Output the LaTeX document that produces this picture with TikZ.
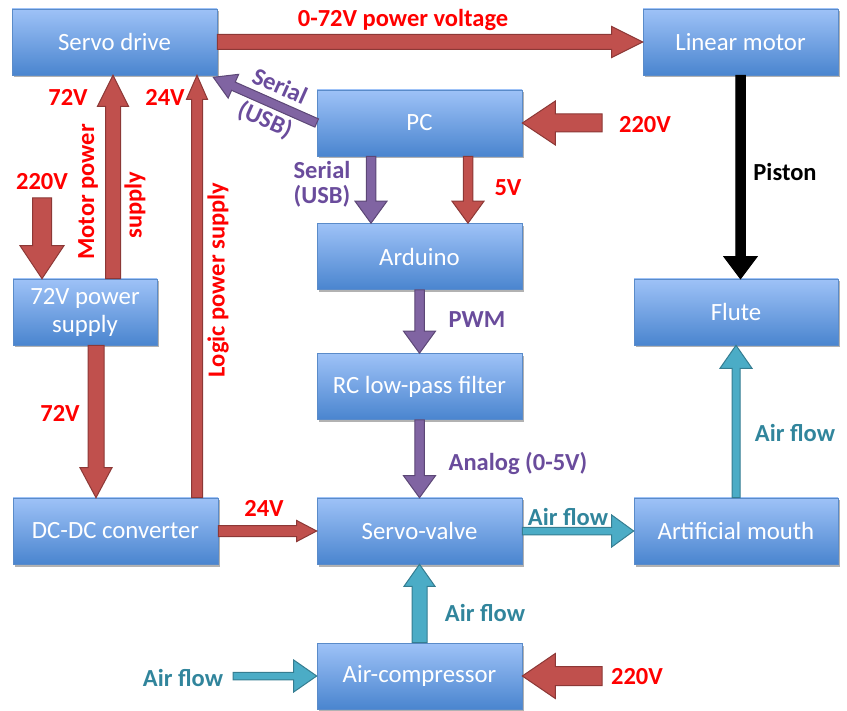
\documentclass[tikz,border=0pt]{standalone}
\usepackage{fontspec}
\setmainfont{Carlito}
\usepackage{tikz}
\usepackage{xcolor}
\usetikzlibrary{calc,shadows}
\definecolor{boxtop}{HTML}{9EC2F7}
\definecolor{boxbot}{HTML}{4A85CF}
\definecolor{boxline}{HTML}{5A8BC9}
\definecolor{redfill}{HTML}{C0504D}
\definecolor{redline}{HTML}{8C3836}
\definecolor{purpfill}{HTML}{8064A2}
\definecolor{purpline}{HTML}{5C4776}
\definecolor{tealfill}{HTML}{4BACC6}
\definecolor{tealline}{HTML}{357D91}
\definecolor{purptext}{HTML}{6A4C9C}
\definecolor{tealtext}{HTML}{31859C}
\newcommand{\boxfont}{\fontsize{24.8}{28}\selectfont}
\newcommand{\lblfont}{\fontsize{24.5}{25}\selectfont\bfseries}
\tikzset{
ba shaft/.store in=\bashaft,
ba head/.store in=\bahead,
ba len/.store in=\balen,
ba fill/.store in=\bafill,
ba line/.store in=\baline,
ba shaft=5pt, ba head=16pt, ba len=22pt, ba fill=black, ba line=black,
power/.style={ba fill=redfill, ba line=redline},
data/.style={ba fill=purpfill, ba line=purpline},
air/.style={ba fill=tealfill, ba line=tealline},
mech/.style={ba fill=black, ba line=black},
mains/.style={ba shaft=9pt, ba head=22pt, ba len=33pt},
wide/.style={ba shaft=7.5pt, ba head=15.5pt, ba len=31pt},
narrow/.style={ba shaft=5.5pt, ba head=10.5pt, ba len=23pt},
signal/.style={ba shaft=4.75pt, ba head=16pt, ba len=22pt},
thin/.style={ba shaft=3.75pt, ba head=16pt, ba len=22pt},
blk/.style={
 rectangle,
 minimum width=205pt,
 minimum height=66pt,
 top color=boxtop,
 bottom color=boxbot,
 draw=boxline,
 line width=0.6pt,
 text=white,
 font=\boxfont,
 align=center,
 drop shadow={shadow xshift=1.5pt, shadow yshift=-2.5pt, opacity=0.3, fill=black}
 },
redlbl/.style={font=\lblfont, text=red},
purplbl/.style={font=\lblfont, text=purptext, align=center},
teallbl/.style={font=\lblfont, text=tealtext},
blklbl/.style={font=\lblfont, text=black}
}
\newcommand{\blockarrow}[3][]{%
\begin{scope}[#1]
\coordinate (ba-s) at #2;
\coordinate (ba-t) at #3;
\coordinate (ba-h) at ($(ba-t)!\balen!(ba-s)$);
\filldraw[fill=\bafill, draw=\baline, line width=1pt, line join=miter]
 ($(ba-s)!\bashaft!90:(ba-t)$) -- ($(ba-h)!\bashaft!90:(ba-t)$)
 -- ($(ba-h)!\bahead!90:(ba-t)$) -- (ba-t)
 -- ($(ba-h)!\bahead!-90:(ba-t)$) -- ($(ba-h)!\bashaft!-90:(ba-t)$)
 -- ($(ba-s)!\bashaft!-90:(ba-t)$) -- cycle;
\end{scope}}

\begin{document}
\begin{tikzpicture}[x=1pt,y=-1pt]
\useasboundingbox (0,0) rectangle (847,711);
\node[blk] (sd) at (114.5,42) {Servo drive};
\node[blk, minimum width=195pt] (lm) at (740.5,42) {Linear motor};
\node[blk] (pc) at (419.5,123) {PC};
\node[blk] (ard) at (419.5,256.5) {Arduino};
\node[blk, minimum width=144pt] (ps) at (85,312) {72V power\\supply};
\node[blk, minimum width=204pt] (fl) at (736,312) {Flute};
\node[blk] (rc) at (419.5,386.5) {RC low-pass filter};
\node[blk] (dc) at (115.5,531) {DC-DC converter};
\node[blk] (sv) at (419.5,531) {Servo-valve};
\node[blk, minimum width=204pt] (am) at (736,531) {Artificial mouth};
\node[blk] (ac) at (419.5,676) {Air-compressor};

\coordinate (mps) at ($(ps.north)+(28,0)$);
\coordinate (lps) at ($(dc.north)+(81.5,0)$);
\coordinate (dcin) at ($(ps.south)+(11,0)$);
\coordinate (in1) at (42,198);
\coordinate (in2) at (602,123);
\coordinate (in3) at (233,676);
\coordinate (in4) at (602,676);
\coordinate (ser) at ($(pc.south)+(-48.5,0)$);
\coordinate (fiv) at ($(pc.south)+(48.5,0)$);

\blockarrow[power, wide]{(sd.east)}{(lm.west)}
\blockarrow[power, wide]{(mps)}{(mps |- sd.south)}
\blockarrow[power, narrow, ba len=24pt]{(lps)}{(lps |- sd.south)}
\blockarrow[power, mains, ba shaft=9.5pt]{(in1)}{(in1 |- ps.north)}
\blockarrow[power, wide, ba shaft=8pt, ba head=16pt, ba len=30pt]{(dcin)}{(dcin |- dc.north)}
\blockarrow[power, narrow, ba len=20pt]{(dc.east)}{(sv.west)}
\blockarrow[power, mains]{(in2)}{(pc.east)}
\blockarrow[data, signal]{(ser)}{(ser |- ard.north)}
\blockarrow[power, signal]{(fiv)}{(fiv |- ard.north)}
\blockarrow[data, signal, ba shaft=4.5pt, ba head=13pt]{(pc.west)}{($(sd.south east)+(-4,2)$)}
\blockarrow[mech, signal, ba head=16.5pt]{(lm.south)}{(lm.south |- fl.north)}
\blockarrow[data, signal]{(ard.south)}{(rc.north)}
\blockarrow[data, signal]{(rc.south)}{(sv.north)}
\blockarrow[air, thin]{(sv.east)}{(am.west)}
\blockarrow[air, thin, ba shaft=4pt, ba len=23pt]{(am.north)}{(fl.south)}
\blockarrow[air, wide, ba len=22pt]{(ac.north)}{(sv.south)}
\blockarrow[air, thin, ba len=23pt]{(in3)}{(ac.west)}
\blockarrow[power, mains, ba shaft=9.5pt, ba head=22.5pt]{(in4)}{(ac.east)}

\node[redlbl] (t-pv) at (403,20) {0-72V power voltage};
\node[redlbl] (t-m72) at (68,97) {72V};
\node[redlbl] (t-l24) at (165,97) {24V};
\node[redlbl] (t-ps220) at (42,182) {220V};
\node[redlbl, rotate=90] (t-mp1) at (88,192) {Motor power};
\node[redlbl, rotate=90] (t-mp2) at (135,205) {supply};
\node[redlbl, rotate=90] (t-lp) at (218,280) {Logic power supply};
\node[purplbl, rotate=-24] (t-ser1) at (272,104) {Serial\\[11pt](USB)};
\node[purplbl] (t-ser2) at (322,184) {Serial\\(USB)};
\node[redlbl] (t-5v) at (508,188) {5V};
\node[redlbl] (t-pc220) at (645,125) {220V};
\node[blklbl] (t-pis) at (785,172) {Piston};
\node[purplbl] (t-pwm) at (477,320) {PWM};
\node[redlbl] (t-d72) at (60,413) {72V};
\node[purplbl] (t-ana) at (518,463) {Analog (0-5V)};
\node[redlbl] (t-v24) at (264,508) {24V};
\node[teallbl] (t-af1) at (568,517) {Air flow};
\node[teallbl] (t-af2) at (795,433) {Air flow};
\node[teallbl] (t-af3) at (485,613) {Air flow};
\node[teallbl] (t-af4) at (183,678) {Air flow};
\node[redlbl] (t-ac220) at (637,677) {220V};
\end{tikzpicture}
\end{document}
